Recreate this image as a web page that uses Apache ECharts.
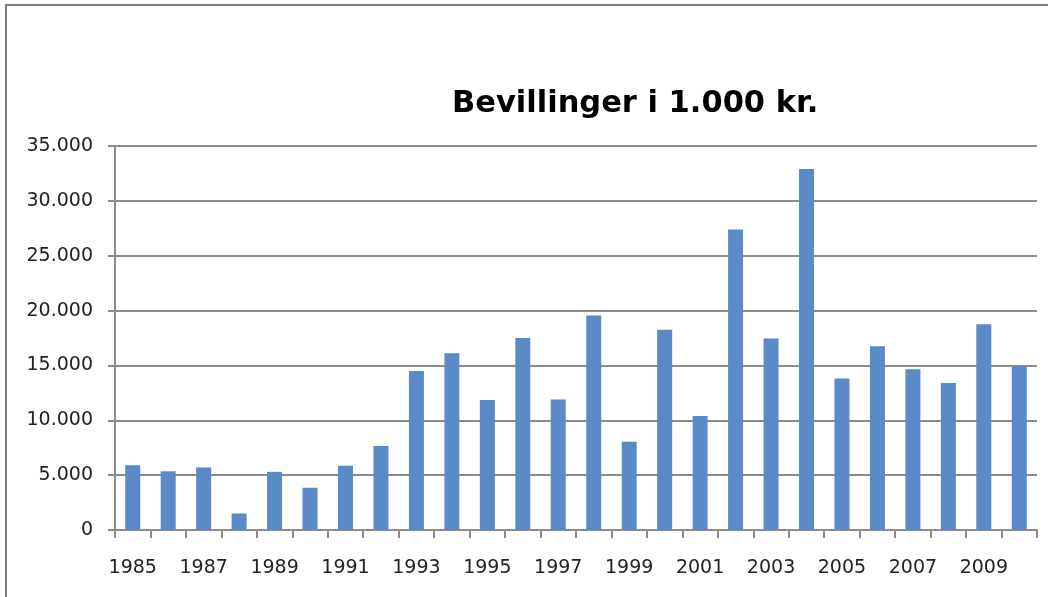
<!DOCTYPE html>
<html>
<head>
<meta charset="utf-8">
<script src="https://cdn.jsdelivr.net/npm/echarts@6/dist/echarts.min.js"></script>
<style>
html,body{margin:0;padding:0;background:#fff;}
#c{width:1048px;height:597px;}
</style>
</head>
<body>
<div id="c"></div>
<script>
const years = ['1985','1986','1987','1988','1989','1990','1991','1992','1993','1994','1995','1996','1997','1998','1999','2000','2001','2002','2003','2004','2005','2006','2007','2008','2009','2010'];
const bevillinger = [5900,5350,5700,1500,5300,3850,5850,7650,14500,16100,11850,17500,11900,19550,8050,18250,10400,27400,17450,32900,13800,16750,14650,13400,18750,14950];
const yTicks = { min: 0, max: 35000, interval: 5000 };

const chart = echarts.init(document.getElementById('c'), null, {renderer: 'canvas'});
const grey = '#8c8c8c';
chart.setOption({
  animation: false,
  backgroundColor: '#fff',
  title: {
    text: 'Bevillinger i 1.000 kr.',
    left: 447, top: 84,
    textStyle: { fontFamily: 'DejaVu Sans', fontWeight: 'bold', fontSize: 30.5, color: '#000' }
  },
  graphic: [{
    type: 'rect', shape: { x: 6, y: 5, width: 1100, height: 700 },
    style: { fill: 'none', stroke: '#7f7f7f', lineWidth: 2 }, silent: true, z: -1
  }],
  grid: { left: 115, right: 11, top: 146, bottom: 67, containLabel: false },
  xAxis: {
    type: 'category', data: years, boundaryGap: true,
    axisLine: { lineStyle: { color: grey, width: 2 } },
    axisTick: { show: true, interval: 0, length: 8, lineStyle: { color: grey, width: 2 } },
    axisLabel: { interval: 1, color: '#222', fontFamily: 'DejaVu Sans', fontSize: 19, margin: 29 },
    splitLine: { show: false }
  },
  yAxis: {
    type: 'value', min: yTicks.min, max: yTicks.max, interval: yTicks.interval,
    axisLine: { show: true, lineStyle: { color: grey, width: 2 } },
    axisTick: { show: true, length: 7, lineStyle: { color: grey, width: 2 } },
    axisLabel: {
      color: '#222', fontFamily: 'DejaVu Sans', fontSize: 19, margin: 22,
      formatter: v => v === 0 ? '0' : v.toLocaleString('de-DE')
    },
    splitLine: { show: true, lineStyle: { color: grey, width: 2 } }
  },
  series: [{
    type: 'bar', data: bevillinger, barWidth: 15,
    itemStyle: { color: '#5b8ac8' }
  }]
});
</script>
</body>
</html>
